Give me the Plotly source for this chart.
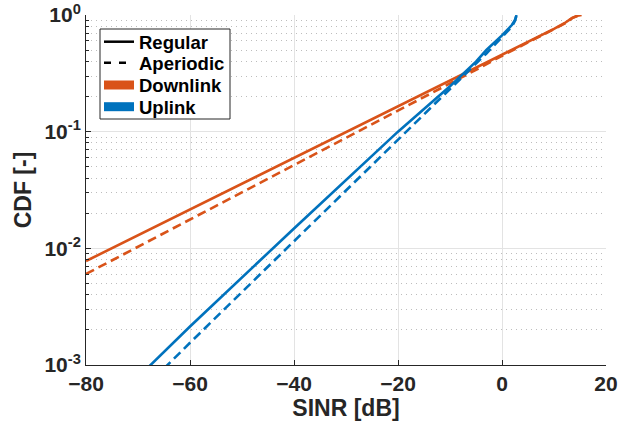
import plotly.graph_objects as go

# SINR [dB] and CDF values
dl_reg_x = [-80, -60, -40, -20, -10, -5, 0, 5, 10, 12, 13.5, 14.5, 15.3]
dl_reg_y = [0.00778, 0.0215, 0.0596, 0.165, 0.274, 0.355, 0.457, 0.589, 0.759,
            0.850, 0.945, 0.985, 1.0]

dl_ape_x = [-80, -60, -40, -20, -10, -5, 0, 5, 10, 12, 13.5, 14.5, 15.3]
dl_ape_y = [0.00603, 0.0176, 0.0515, 0.151, 0.257, 0.339, 0.447, 0.582, 0.750,
            0.842, 0.940, 0.983, 1.0]

ul_reg_x = [-68.5, -60, -40, -20, -10, -5, -3, 0, 1.9, 2.5, 2.8]
ul_reg_y = [0.000912, 0.00214, 0.0148, 0.100, 0.245, 0.398, 0.501, 0.668, 0.820,
            0.905, 1.0]

ul_ape_x = [-65, -60, -40, -20, -10, -5, -3, 0, 1.9, 2.5, 2.8]
ul_ape_y = [0.000933, 0.00155, 0.0115, 0.0851, 0.232, 0.380, 0.468, 0.646, 0.794,
            0.891, 1.0]

x_ticks = [-80, -60, -40, -20, 0, 20]
y_ticks = [0.001, 0.01, 0.1, 1]
y_ticktext = ["10<sup>-3</sup>", "10<sup>-2</sup>", "10<sup>-1</sup>", "10<sup>0</sup>"]

legend_labels = ["Regular", "Aperiodic", "Downlink", "Uplink"]

ORANGE = "#D95319"
BLUE = "#0072BD"
DASH = "9px,5px"
FONT = "Liberation Sans"
DARK = "#262626"

fig = go.Figure()
fig.add_trace(go.Scatter(x=dl_reg_x, y=dl_reg_y, mode="lines",
                         line=dict(color=ORANGE, width=2.6), showlegend=False))
fig.add_trace(go.Scatter(x=dl_ape_x, y=dl_ape_y, mode="lines",
                         line=dict(color=ORANGE, width=2.6, dash=DASH), showlegend=False))
fig.add_trace(go.Scatter(x=ul_reg_x, y=ul_reg_y, mode="lines",
                         line=dict(color=BLUE, width=2.6), showlegend=False))
fig.add_trace(go.Scatter(x=ul_ape_x, y=ul_ape_y, mode="lines",
                         line=dict(color=BLUE, width=2.6, dash=DASH), showlegend=False))

# Custom legend box (paper coordinates derived from page pixels)
PX0, PW, PY0, PH = 86, 520, 365, 350
def px(v):
    return (v - PX0) / PW
def py(v):
    return (PY0 - v) / PH

shapes = [dict(type="rect", xref="paper", yref="paper",
               x0=px(100), x1=px(230), y0=py(119), y1=py(29),
               line=dict(color=DARK, width=1), fillcolor="white", layer="above")]
row_y = [41.7, 62.7, 85, 106.7]
sample_styles = [
    dict(color="black", width=2.5),
    dict(color="black", width=2.5, dash="7px,8px"),
    dict(color=ORANGE, width=9),
    dict(color=BLUE, width=9),
]
annotations = []
for lbl, ry, st in zip(legend_labels, row_y, sample_styles):
    shapes.append(dict(type="line", xref="paper", yref="paper",
                       x0=px(104), x1=px(134), y0=py(ry), y1=py(ry),
                       line=st, layer="above"))
    annotations.append(dict(text=lbl, xref="paper", yref="paper",
                            x=px(136.5), y=py(ry + 0.5), xanchor="left", yanchor="middle",
                            showarrow=False,
                            font=dict(family=FONT, size=18.5, color="black", weight="bold")))

fig.update_layout(
    width=634, height=424,
    margin=dict(l=86, r=28, t=15, b=59),
    paper_bgcolor="white", plot_bgcolor="white",
    font=dict(family=FONT, color=DARK, size=21),
    showlegend=False,
    shapes=shapes,
    annotations=annotations,
    xaxis=dict(
        range=[-80, 20], tickvals=x_ticks, automargin=False,
        ticks="inside", ticklen=5, tickcolor=DARK,
        showline=True, linecolor=DARK, linewidth=1, mirror=False,
        showgrid=True, gridcolor="#e3e3e3", gridwidth=1, zeroline=False,
        tickfont=dict(family=FONT, size=21, color=DARK, weight="bold"),
        title=dict(text="SINR [dB]", standoff=4,
                   font=dict(family=FONT, size=23, color=DARK, weight="bold")),
    ),
    yaxis=dict(
        type="log", range=[-3, 0], tickvals=y_ticks, ticktext=y_ticktext,
        automargin=False,
        ticks="inside", ticklen=5, tickcolor=DARK,
        showline=True, linecolor=DARK, linewidth=1, mirror=False,
        showgrid=True, gridcolor="#e3e3e3", gridwidth=1, zeroline=False,
        minor=dict(ticks="inside", ticklen=3, tickcolor=DARK, dtick="D1",
                   showgrid=True, gridcolor="#bdbdbd", griddash="1px,4px", gridwidth=1),
        tickfont=dict(family=FONT, size=21, color=DARK, weight="bold"),
        title=dict(text="CDF [-]", standoff=6,
                   font=dict(family=FONT, size=23, color=DARK, weight="bold")),
    ),
)

# remove the default 8px page margin so the figure sits at the window corner
fig.write_html("out.html",
               config={"displayModeBar": False},
               post_script="document.body.style.margin='0px';document.body.style.overflow='hidden';")
